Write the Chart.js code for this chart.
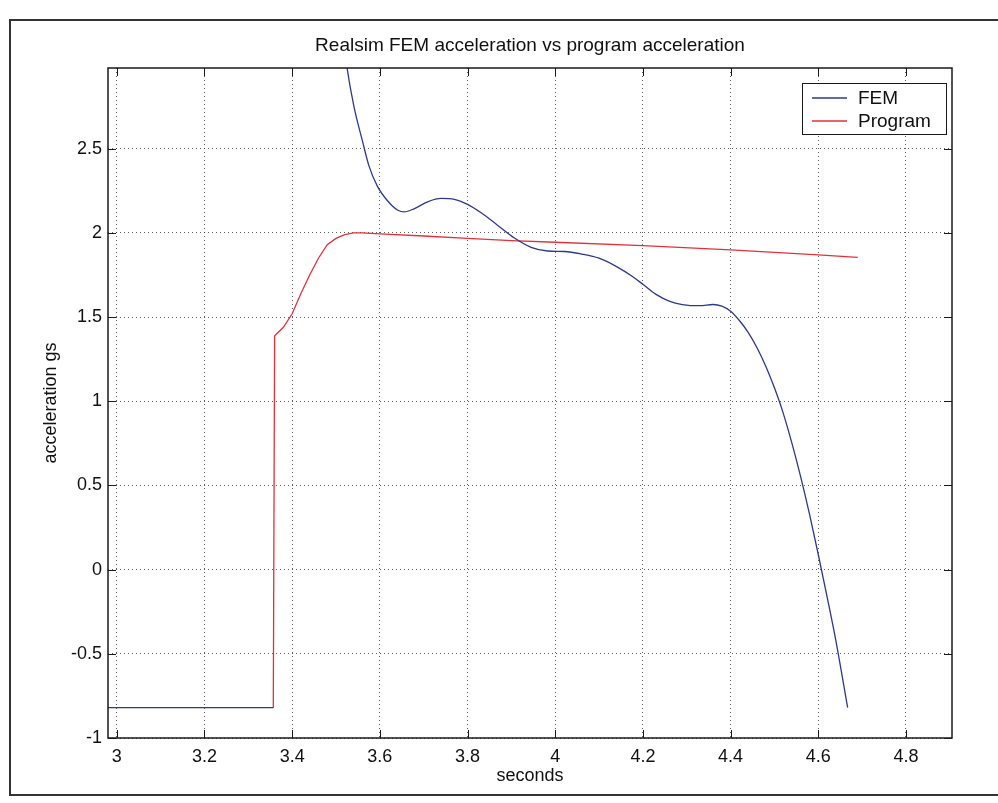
<!DOCTYPE html>
<html>
<head>
<meta charset="utf-8">
<script src="https://cdn.jsdelivr.net/npm/chart.js@4.4.1/dist/chart.umd.min.js"></script>
<style>
html,body{margin:0;padding:0;background:#fff;}
canvas{display:block;}
</style>
</head>
<body>
<canvas id="c" width="998" height="803"></canvas>
<script>
const chartTitle = 'Realsim FEM acceleration vs program acceleration';
const xLabel = 'seconds';
const yLabel = 'acceleration gs';
const seriesNames = ['FEM', 'Program'];
const seriesColors = ['#2b3a8f', '#e3313b'];

const xTicks = [3, 3.2, 3.4, 3.6, 3.8, 4, 4.2, 4.4, 4.6, 4.8];
const yTicks = [-1, -0.5, 0, 0.5, 1, 1.5, 2, 2.5];
const xRange = [2.98, 4.905];
const yRange = [-1, 2.98];

// FEM series (null = gap in the trace)
const femTime = [2.98, 3.357, 3.45, 3.51, 3.525, 3.541, 3.56, 3.575, 3.594, 3.618, 3.641, 3.656, 3.679, 3.709, 3.74, 3.77, 3.8, 3.831, 3.869, 3.907, 3.945, 3.983, 4.021, 4.06, 4.1, 4.14, 4.177, 4.2, 4.23, 4.26, 4.29, 4.33, 4.36, 4.38, 4.4, 4.42, 4.44, 4.46, 4.48, 4.5, 4.52, 4.54, 4.56, 4.58, 4.6, 4.62, 4.64, 4.667];
const femAccel = [-0.82, -0.82, null, 3.3, 2.985, 2.75, 2.55, 2.4, 2.28, 2.19, 2.135, 2.125, 2.145, 2.185, 2.205, 2.2, 2.17, 2.12, 2.045, 1.97, 1.915, 1.893, 1.89, 1.875, 1.85, 1.8, 1.74, 1.695, 1.635, 1.595, 1.575, 1.568, 1.575, 1.565, 1.535, 1.48, 1.41, 1.32, 1.21, 1.08, 0.93, 0.75, 0.55, 0.33, 0.09, -0.16, -0.42, -0.82];

// Program series
const progTime = [3.357, 3.36, 3.38, 3.4, 3.42, 3.44, 3.46, 3.48, 3.5, 3.52, 3.54, 3.56, 3.6, 3.7, 3.8, 3.9, 4.0, 4.2, 4.4, 4.6, 4.69];
const progAccel = [-0.82, 1.39, 1.44, 1.52, 1.64, 1.75, 1.85, 1.93, 1.968, 1.99, 2.0, 2.0, 1.995, 1.982, 1.968, 1.955, 1.945, 1.925, 1.9, 1.87, 1.855];

const FONT = '"Liberation Sans", Arial, Helvetica, sans-serif';

function pts(xs, ys) { return xs.map((x, i) => ({ x: x, y: ys[i] })); }

const decor = {
  id: 'decor',
  beforeDraw(chart) {
    const ctx = chart.ctx;
    ctx.save();
    ctx.fillStyle = '#ffffff';
    ctx.fillRect(0, 0, chart.width, chart.height);
    ctx.restore();
  },
  afterDraw(chart) {
    const { ctx, chartArea: a, scales } = chart;
    const xs = scales.x, ys = scales.y;
    ctx.save();
    // page frame
    ctx.strokeStyle = '#333';
    ctx.lineWidth = 2;
    ctx.beginPath();
    ctx.moveTo(1000, 20); ctx.lineTo(10, 20); ctx.lineTo(10, 795); ctx.lineTo(1000, 795);
    ctx.stroke();
    // title centred over the axes
    ctx.fillStyle = '#111';
    ctx.font = '19px ' + FONT;
    ctx.textAlign = 'center';
    ctx.textBaseline = 'middle';
    ctx.fillText(chartTitle, (a.left + a.right) / 2, 46);
    // axes box
    ctx.strokeStyle = '#1a1a1a';
    ctx.lineWidth = 1.5;
    ctx.strokeRect(a.left, a.top, a.right - a.left, a.bottom - a.top);
    // inward tick marks
    const L = 8;
    ctx.lineWidth = 1;
    ctx.beginPath();
    xTicks.forEach(v => {
      const p = Math.round(xs.getPixelForValue(v)) + 0.5;
      ctx.moveTo(p, a.bottom); ctx.lineTo(p, a.bottom - L);
      ctx.moveTo(p, a.top); ctx.lineTo(p, a.top + L);
    });
    yTicks.forEach(v => {
      const p = Math.round(ys.getPixelForValue(v)) + 0.5;
      ctx.moveTo(a.left, p); ctx.lineTo(a.left + L, p);
      ctx.moveTo(a.right, p); ctx.lineTo(a.right - L, p);
    });
    ctx.stroke();
    // legend
    const lx = 802, ly = 83, lw = 144, lh = 51;
    ctx.fillStyle = '#fff';
    ctx.fillRect(lx, ly, lw, lh);
    ctx.strokeStyle = '#1a1a1a';
    ctx.lineWidth = 1;
    ctx.strokeRect(lx + 0.5, ly + 0.5, lw, lh);
    ctx.font = '19px ' + FONT;
    ctx.textBaseline = 'middle';
    ctx.textAlign = 'left';
    chart.data.datasets.forEach((ds, i) => {
      const cy = ly + 15 + i * 23;
      ctx.strokeStyle = ds.borderColor;
      ctx.lineWidth = 1.3;
      ctx.beginPath();
      ctx.moveTo(lx + 10, cy); ctx.lineTo(lx + 45, cy);
      ctx.stroke();
      ctx.fillStyle = '#111';
      ctx.fillText(ds.label, lx + 56, cy + 1);
    });
    ctx.restore();
  }
};

new Chart(document.getElementById('c'), {
  type: 'line',
  data: {
    datasets: [
      {
        label: seriesNames[0],
        data: pts(femTime, femAccel),
        borderColor: seriesColors[0],
        borderWidth: 1.3,
        pointRadius: 0,
        fill: false,
        spanGaps: false,
        cubicInterpolationMode: 'monotone'
      },
      {
        label: seriesNames[1],
        data: pts(progTime, progAccel),
        borderColor: seriesColors[1],
        borderWidth: 1.3,
        pointRadius: 0,
        fill: false,
        tension: 0
      }
    ]
  },
  options: {
    responsive: false,
    animation: false,
    devicePixelRatio: 1,
    layout: { padding: { left: 0, right: 46, top: 68, bottom: 0 } },
    plugins: {
      legend: { display: false },
      tooltip: { enabled: false },
      title: { display: false }
    },
    scales: {
      x: {
        type: 'linear',
        min: xRange[0],
        max: xRange[1],
        afterBuildTicks: s => { s.ticks = xTicks.map(v => ({ value: v })); },
        afterFit: s => { s.height = 65; },
        ticks: {
          autoSkip: false,
          maxRotation: 0,
          padding: 8,
          color: '#111',
          font: { family: FONT, size: 18 },
          callback: v => String(v)
        },
        grid: { color: 'rgba(40,40,40,0.75)', lineWidth: 1, drawTicks: false },
        border: { display: false, dash: [1, 3] },
        title: {
          display: true,
          text: xLabel,
          color: '#111',
          font: { family: FONT, size: 18 },
          padding: { top: 0, bottom: 16 }
        }
      },
      y: {
        type: 'linear',
        min: yRange[0],
        max: yRange[1],
        afterBuildTicks: s => { s.ticks = yTicks.map(v => ({ value: v })); },
        afterFit: s => { s.width = 108; },
        ticks: {
          padding: 6,
          color: '#111',
          font: { family: FONT, size: 18 },
          callback: v => String(v)
        },
        grid: { color: 'rgba(40,40,40,0.75)', lineWidth: 1, drawTicks: false },
        border: { display: false, dash: [1, 3] },
        title: {
          display: true,
          text: yLabel,
          color: '#111',
          font: { family: FONT, size: 18 },
          padding: { top: 40, bottom: 0 }
        }
      }
    }
  },
  plugins: [decor]
});
</script>
</body>
</html>
